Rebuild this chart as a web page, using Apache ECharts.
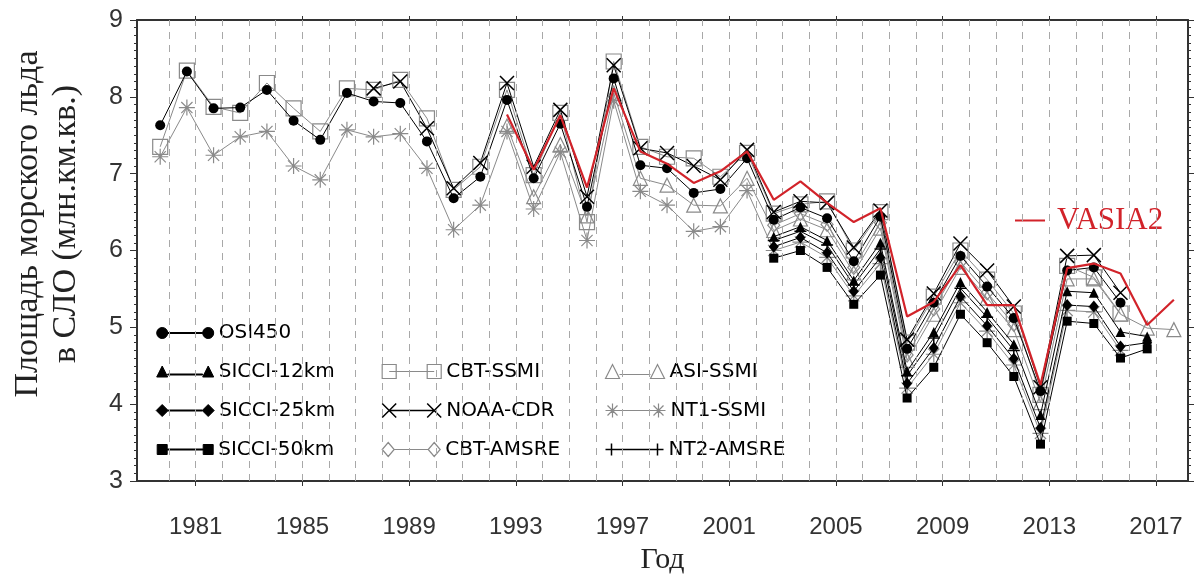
<!DOCTYPE html>
<html><head><meta charset="utf-8">
<script src="https://cdn.jsdelivr.net/npm/echarts@6/dist/echarts.min.js"></script>
<style>html,body{margin:0;padding:0;background:#fff}#c{width:1194px;height:577px}</style>
</head><body><div id="c"></div>
<script>
// ---------------- DATA ----------------
const years = [1979,1980,1981,1982,1983,1984,1985,1986,1987,1988,1989,1990,1991,1992,1993,1994,1995,1996,1997,1998,
  1999,2000,2001,2002,2003,2004,2005,2006,2007,2008,2009,2010,2011,2012,2013,2014,2015,2016,2017];
const xTickYears = [1981,1985,1989,1993,1997,2001,2005,2009,2013,2017];
const yearGridLines = [1980,1981,1982,1983,1984,1985,1986,1987,1988,1989,1990,1991,1992,1993,1994,1995,1996,1997,1998,
  1999,2000,2001,2002,2003,2004,2005,2006,2007,2008,2009,2010,2011,2012,2013,2014,2015,2016,2017];

const osi450 = [7.63,8.33,7.85,7.86,8.09,7.69,7.44,8.05,7.94,7.92,7.42,6.68,6.96,7.96,6.94,7.65,6.57,8.24,7.11,7.07,
  6.75,6.80,7.20,6.40,6.56,6.42,5.86,6.44,4.72,5.32,5.93,5.53,5.12,4.17,5.74,5.78,5.32,null,null];
const sicci12 = [null,null,null,null,null,null,null,null,null,null,null,null,null,null,null,null,null,null,null,null,
  null,null,null,6.18,6.31,6.13,5.61,6.10,4.43,4.94,5.59,5.20,4.78,3.86,5.47,5.45,4.94,4.88,null];
const sicci25 = [null,null,null,null,null,null,null,null,null,null,null,null,null,null,null,null,null,null,null,null,
  null,null,null,6.05,6.17,5.97,5.47,5.91,4.27,4.73,5.40,5.02,4.59,3.69,5.29,5.27,4.75,4.80,null];
const sicci50 = [null,null,null,null,null,null,null,null,null,null,null,null,null,null,null,null,null,null,null,null,
  null,null,null,5.90,6.00,5.78,5.30,5.68,4.08,4.48,5.17,4.80,4.36,3.48,5.08,5.05,4.60,4.72,null];
const cbtSsmi = [7.35,8.34,7.87,7.79,8.18,7.85,7.55,8.11,8.09,8.22,7.72,6.79,7.09,8.09,6.98,7.79,6.37,8.46,7.35,7.22,
  7.20,6.96,7.27,6.48,6.60,6.64,6.00,6.50,4.80,5.40,6.00,5.62,5.18,4.12,5.80,5.65,5.18,null,null];
const noaaCdr = [null,null,null,null,null,null,null,null,8.11,8.20,7.59,6.81,7.14,8.18,7.09,7.83,6.70,8.41,7.33,7.27,
  7.10,6.92,7.31,6.50,6.64,6.62,6.04,6.52,4.84,5.44,6.09,5.74,5.27,4.22,5.93,5.94,5.45,null,null];
const cbtAmsre = [null,null,null,null,null,null,null,null,null,null,null,null,null,null,null,null,null,null,null,null,
  null,null,null,6.33,6.48,6.34,5.78,6.36,4.64,5.24,5.85,5.45,5.04,null,null,null,null,null,null];
const asiSsmi = [null,null,null,null,null,null,null,null,null,null,null,null,null,7.62,6.70,7.38,6.45,8.05,6.94,6.85,
  6.59,6.58,6.94,6.26,6.41,6.27,5.71,6.29,4.57,5.17,5.78,5.38,4.97,4.02,5.63,5.63,5.17,4.99,4.97];
const nt1Ssmi = [7.22,7.86,7.24,7.48,7.55,7.10,6.92,7.57,7.48,7.52,7.07,6.27,6.59,7.55,6.54,7.28,6.13,7.95,6.77,6.59,
  6.25,6.31,6.78,6.00,6.11,5.91,5.41,5.83,4.21,4.65,5.32,4.95,4.51,3.62,5.22,5.20,4.70,null,null];
const nt2Amsre = [null,null,null,null,null,null,null,null,null,null,null,null,null,null,null,null,null,null,null,null,
  null,null,null,6.13,6.25,6.07,5.55,6.02,4.37,4.86,5.51,5.13,4.70,null,null,null,null,null,null];
const vasia2 = [null,null,null,null,null,null,null,null,null,null,null,null,null,7.77,7.05,7.76,6.82,8.11,7.29,7.13,
  6.88,7.03,7.29,6.66,6.90,6.62,6.37,6.55,5.14,5.33,5.81,5.29,5.29,4.25,5.77,5.83,5.70,5.03,5.36];

// September values are placed at their position inside the year
const SEPT_FRACTION = 0.67;

// ---------------- STYLES ----------------
const BLACK = '#000', GRAY = '#8a8a8a', RED = '#d2232a';
const P = {
  xMark: 'path://M0,0L10,10M10,0L0,10',
  star:  'path://M5,0L5,10M0,5L10,5M1.5,1.5L8.5,8.5M8.5,1.5L1.5,8.5',
  plus:  'path://M5,0L5,10M0,5L10,5'
};
// legend icons: marker - line - marker
const L = {
  circle: {w:57,h:11,p:'path://M0,5.5A5.5,5.5,0,1,1,11,5.5A5.5,5.5,0,1,1,0,5.5Z M11,5L46,5L46,6L11,6Z M46,5.5A5.5,5.5,0,1,1,57,5.5A5.5,5.5,0,1,1,46,5.5Z'},
  tri:    {w:57,h:11,p:'path://M0,11L5.5,0L11,11Z M11,8L46,8L46,9L11,9Z M46,11L51.5,0L57,11Z'},
  dia:    {w:58,h:12,p:'path://M6,0L12,6L6,12L0,6Z M12,5.5L46,5.5L46,6.5L12,6.5Z M52,0L58,6L52,12L46,6Z'},
  sq:     {w:56,h:10,p:'path://M0,0L10,0L10,10L0,10Z M10,4.5L46,4.5L46,5.5L10,5.5Z M46,0L56,0L56,10L46,10Z'},
  osq:    {w:59,h:14,p:'path://M0,0L14,0L14,14L0,14Z M7,7L52,7 M45,0L59,0L59,14L45,14Z'},
  x:      {w:59,h:14,p:'path://M0,0L14,14M14,0L0,14 M7,7L52,7 M45,0L59,14M59,0L45,14'},
  odia:   {w:58,h:14,p:'path://M6,0L12,7L6,14L0,7Z M12,7L46,7 M52,0L58,7L52,14L46,7Z'},
  otri:   {w:59,h:14,p:'path://M0,14L7,0L14,14Z M14,10L45,10 M45,14L52,0L59,14Z'},
  star:   {w:60,h:14,p:'path://M7,0L7,14M0,7L14,7M2,2L12,12M12,2L2,12 M7,7L53,7 M53,0L53,14M46,7L60,7M48,2L58,12M58,2L48,12'},
  plus:   {w:58,h:12,p:'path://M6,0L6,12M0,6L12,6 M6,6L52,6 M52,0L52,12M46,6L58,6'}
};

const defs = [
  {name:'OSI450',     data:osi450,  symbol:'circle',  size:10,      fill:BLACK, stroke:BLACK, bw:0,   line:BLACK, icon:L.circle, col:0, row:0},
  {name:'SICCI-12km', data:sicci12, symbol:'triangle',size:10,      fill:BLACK, stroke:BLACK, bw:0,   line:BLACK, icon:L.tri,    col:0, row:1},
  {name:'SICCI-25km', data:sicci25, symbol:'diamond', size:[10,12], fill:BLACK, stroke:BLACK, bw:0,   line:BLACK, icon:L.dia,    col:0, row:2},
  {name:'SICCI-50km', data:sicci50, symbol:'rect',    size:9,       fill:BLACK, stroke:BLACK, bw:0,   line:BLACK, icon:L.sq,     col:0, row:3},
  {name:'CBT-SSMI',   data:cbtSsmi, symbol:'rect',    size:15,      fill:'none',stroke:GRAY,  bw:1.2, line:GRAY,  icon:L.osq,    col:1, row:1},
  {name:'NOAA-CDR',   data:noaaCdr, symbol:P.xMark,   size:14,      fill:'none',stroke:BLACK, bw:1.5, line:BLACK, icon:L.x,      col:1, row:2},
  {name:'CBT-AMSRE',  data:cbtAmsre,symbol:'diamond', size:[12,14], fill:'none',stroke:GRAY,  bw:1.2, line:GRAY,  icon:L.odia,   col:1, row:3},
  {name:'ASI-SSMI',   data:asiSsmi, symbol:'triangle',size:14,      fill:'none',stroke:GRAY,  bw:1.2, line:GRAY,  icon:L.otri,   col:2, row:1},
  {name:'NT1-SSMI',   data:nt1Ssmi, symbol:P.star,    size:16,      fill:'none',stroke:GRAY,  bw:1.2, line:GRAY,  icon:L.star,   col:2, row:2},
  {name:'NT2-AMSRE',  data:nt2Amsre,symbol:P.plus,    size:12,      fill:'none',stroke:BLACK, bw:1.5, line:BLACK, icon:L.plus,   col:2, row:3}
];

function toPoints(vals){
  const out = [];
  years.forEach((y,i)=>{ if (vals[i] != null) out.push([y + SEPT_FRACTION, vals[i]]); });
  return out;
}

const series = [];
// dashed yearly grid lines
series.push({
  type:'line', name:'__grid', data:[], z:1, silent:true, animation:false,
  markLine:{ silent:true, symbol:['none','none'], label:{show:false}, animation:false,
    lineStyle:{type:[7,6], color:'#a8a8a8', width:1},
    emphasis:{disabled:true},
    data: yearGridLines.map(y=>({xAxis:y})) }
});
defs.forEach((d,k)=>{
  series.push({
    type:'line', name:d.name, data:toPoints(d.data), z: d.fill===BLACK ? 4 : 3,
    symbol:d.symbol, symbolSize:d.size, showSymbol:true, animation:false, silent:true,
    itemStyle:{color:d.fill, borderColor:d.stroke, borderWidth:d.bw},
    lineStyle:{color:d.line, width:1},
    emphasis:{disabled:true}
  });
});
series.push({
  type:'line', name:'VASIA2', data:toPoints(vasia2), z:6, symbol:'none', animation:false, silent:true,
  itemStyle:{color:RED}, lineStyle:{color:RED, width:2.2}, emphasis:{disabled:true}
});

// legends
const colX = [161.7, 386.7, 610];
const rowY = [333, 371.5, 410.5, 449.5];
const LFS = 20;
const legends = defs.map(d=>{
  const ic = d.icon;
  return {
    data:[{name:d.name, icon:ic.p}],
    left: colX[d.col] - (d.col===0 ? ic.h/2 : 7),
    top: rowY[d.row] - Math.max(ic.h, LFS)/2,
    padding:0, itemWidth:ic.w, itemHeight:ic.h, selectedMode:false,
    itemStyle:{color:d.fill, borderColor:d.stroke, borderWidth: d.fill===BLACK ? 1 : d.bw},
    textStyle:{fontFamily:'DejaVu Sans', fontSize:LFS, color:'#000'}
  };
});
legends.push({
  data:[{name:'VASIA2', icon:'path://M0,0L30,0L30,2L0,2Z'}],
  left:1015, top:205, padding:0, itemWidth:30, itemHeight:2, selectedMode:false,
  itemStyle:{color:RED, borderWidth:0},
  textStyle:{fontFamily:'Liberation Serif', fontSize:31, color:RED, padding:[0,0,0,7]}
});

const axisLineStyle = {color:'#333', width:2};
const option = {
  animation:false,
  backgroundColor:'#fff',
  grid:{left:137, right:6, top:20, bottom:96, containLabel:false, outerBoundsMode:'none'},
  xAxis:[{
    type:'value', min:1978.8, max:2018.2, position:'bottom',
    axisLine:{show:true, onZero:false, lineStyle:axisLineStyle},
    axisTick:{show:true, inside:false, length:5, customValues:xTickYears, lineStyle:{color:'#333'}},
    axisLabel:{show:true, customValues:xTickYears, margin:34, fontSize:24, fontFamily:'Liberation Sans', color:'#333',
      formatter:v=>String(Math.round(v))},
    splitLine:{show:false},
    name:'Год', nameLocation:'middle', nameGap:64,
    nameTextStyle:{fontFamily:'Liberation Serif', fontSize:30, color:'#222'}
  },{
    type:'value', min:1978.8, max:2018.2, position:'top',
    axisLine:{show:true, onZero:false, lineStyle:axisLineStyle},
    axisTick:{show:true, inside:false, length:4, customValues:xTickYears, lineStyle:{color:'#333'}},
    axisLabel:{show:false}, splitLine:{show:false}
  }],
  yAxis:[{
    type:'value', min:3, max:9, interval:1, position:'left',
    axisLine:{show:true, onZero:false, lineStyle:axisLineStyle},
    axisTick:{show:true, inside:false, length:7, lineStyle:{color:'#333'}},
    minorTick:{show:true, splitNumber:10, length:3, lineStyle:{color:'#333'}},
    axisLabel:{show:true, margin:14, fontSize:25, fontFamily:'Liberation Sans', color:'#333'},
    splitLine:{show:false}, minorSplitLine:{show:false}
  },{
    type:'value', min:3, max:9, interval:1, position:'right',
    axisLine:{show:true, onZero:false, lineStyle:axisLineStyle},
    axisTick:{show:true, inside:false, length:6, lineStyle:{color:'#333'}},
    minorTick:{show:true, splitNumber:10, length:3, lineStyle:{color:'#333'}},
    axisLabel:{show:false}, splitLine:{show:false}
  }],
  legend: legends,
  graphic:[
    {type:'text', x:28, y:224, rotation:Math.PI/2, silent:true,
      style:{text:'Площадь морского льда', font:'34px "Liberation Serif"', fill:'#222', align:'center', verticalAlign:'middle'}},
    {type:'text', x:66, y:224, rotation:Math.PI/2, silent:true,
      style:{text:'в СЛО (млн.км.кв.)', font:'34px "Liberation Serif"', fill:'#222', align:'center', verticalAlign:'middle'}}
  ],
  series: series
};
const chart = echarts.init(document.getElementById('c'), null, {renderer:'canvas', width:1194, height:577});
chart.setOption(option);
</script>
</body></html>
